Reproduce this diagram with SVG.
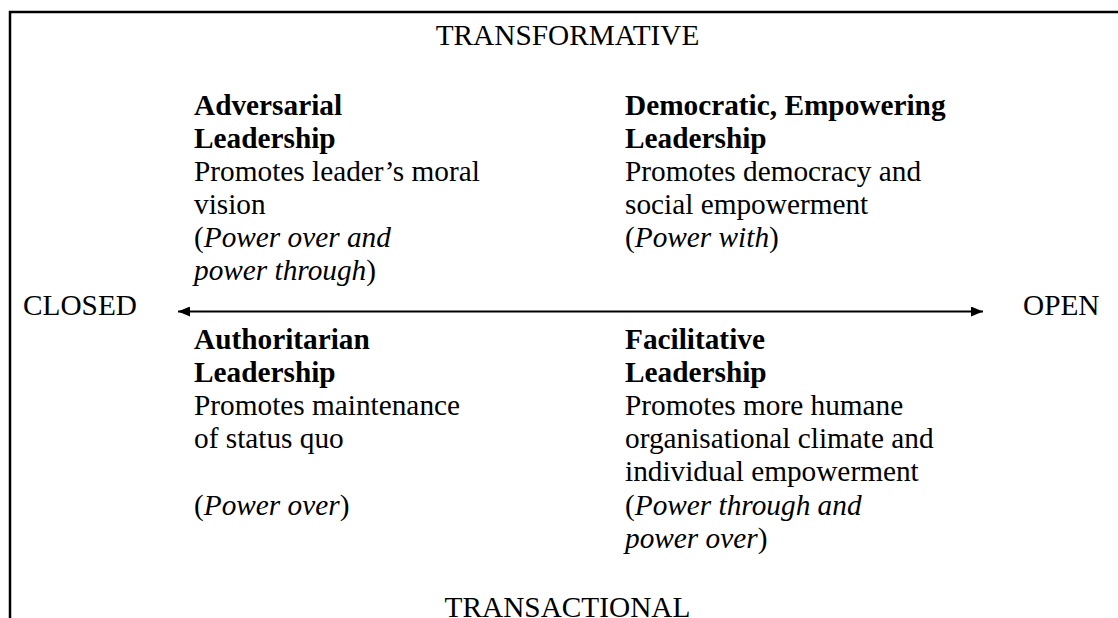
<svg xmlns="http://www.w3.org/2000/svg" width="1118" height="618" viewBox="0 0 1118 618">
<style>
text{font-family:"Liberation Serif","Times New Roman",serif;font-size:29.3px;fill:#000}
.b{font-weight:bold}
.i{font-style:italic}
.frame{stroke:#000;stroke-width:2.5;fill:none}
.axis{stroke:#000;stroke-width:2;fill:none}
</style>
<defs>
<marker id="ah" viewBox="0 0 12 10" refX="12" refY="5" markerWidth="12" markerHeight="10" markerUnits="userSpaceOnUse" orient="auto-start-reverse">
<path d="M0,0 L12,5 L0,10 Z" fill="#000"/>
</marker>
</defs>
<rect width="1118" height="618" fill="#fff"/>
<g id="frame">
<path class="frame" d="M10,640 L10,12 L1130,12"/>
</g>
<g id="connectors">
<line class="axis" x1="178" y1="311.5" x2="983" y2="311.5" marker-start="url(#ah)" marker-end="url(#ah)"/>
</g>
<g id="top-label"><text x="567.5" y="45" text-anchor="middle">TRANSFORMATIVE</text></g>
<g id="bottom-label"><text x="567.5" y="617" text-anchor="middle">TRANSACTIONAL</text></g>
<g id="left-label"><text x="23" y="315">CLOSED</text></g>
<g id="right-label"><text x="1023" y="315">OPEN</text></g>
<g id="adversarial">
<text class="b" x="194" y="115">Adversarial</text>
<text class="b" x="194" y="148">Leadership</text>
<text x="194" y="181">Promotes leader’s moral</text>
<text x="194" y="214">vision</text>
<text x="194" y="247">(<tspan class="i">Power over and</tspan></text>
<text x="194" y="280"><tspan class="i">power through</tspan>)</text>
</g>
<g id="democratic">
<text class="b" x="625" y="115">Democratic, Empowering</text>
<text class="b" x="625" y="148">Leadership</text>
<text x="625" y="181">Promotes democracy and</text>
<text x="625" y="214">social empowerment</text>
<text x="625" y="247">(<tspan class="i">Power with</tspan>)</text>
</g>
<g id="authoritarian">
<text class="b" x="194" y="349">Authoritarian</text>
<text class="b" x="194" y="382">Leadership</text>
<text x="194" y="415">Promotes maintenance</text>
<text x="194" y="448">of status quo</text>
<text x="194" y="515">(<tspan class="i">Power over</tspan>)</text>
</g>
<g id="facilitative">
<text class="b" x="625" y="349">Facilitative</text>
<text class="b" x="625" y="382">Leadership</text>
<text x="625" y="415">Promotes more humane</text>
<text x="625" y="448">organisational climate and</text>
<text x="625" y="481">individual empowerment</text>
<text x="625" y="515">(<tspan class="i">Power through and</tspan></text>
<text x="625" y="548"><tspan class="i">power over</tspan>)</text>
</g>
</svg>
